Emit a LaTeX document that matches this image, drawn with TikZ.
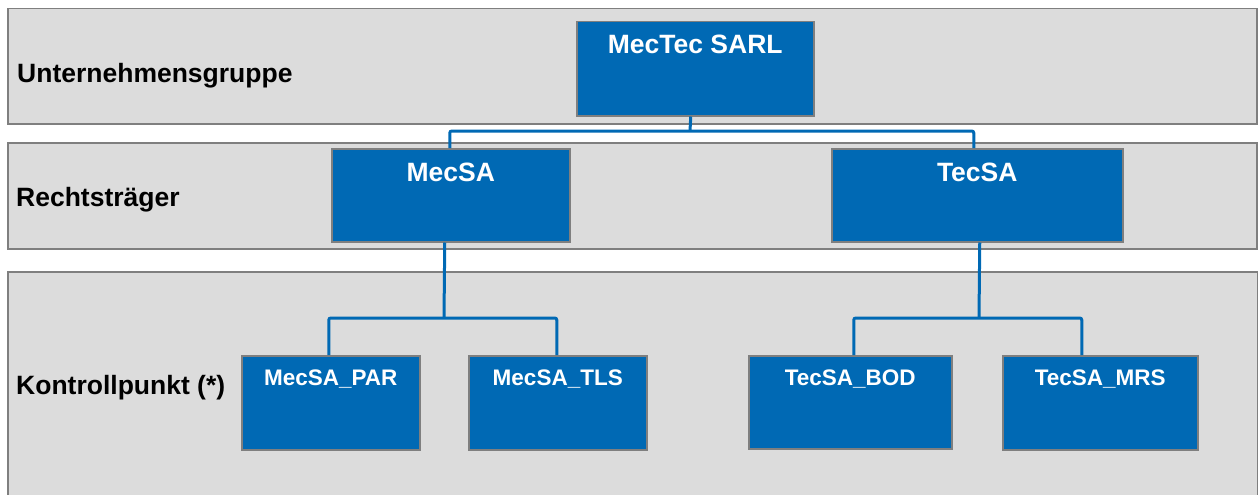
\documentclass[tikz,border=0pt]{standalone}
\usepackage{fontspec}
\setmainfont{Liberation Sans}
\usepackage{tikz}
\usetikzlibrary{positioning}
\definecolor{unitblue}{RGB}{0,105,180}
\definecolor{bandgray}{RGB}{220,220,220}
\definecolor{edgegray}{RGB}{127,127,127}
\tikzset{
band/.style = { rectangle, draw = edgegray, fill = bandgray, line width = 1.5pt, anchor = north west, inner sep = 0pt },
tier label/.style = { black, anchor = base west, inner sep = 0pt, font = \bfseries\fontsize{26.5}{30}\selectfont },
unit/.style = { rectangle, draw = edgegray, fill = unitblue, line width = 1.5pt, anchor = north west, inner sep = 0pt },
unit text/.style = { white, anchor = base, inner sep = 0pt, font = \bfseries\fontsize{26.5}{30}\selectfont },
small text/.style = { unit text, font = \bfseries\fontsize{22.5}{26}\selectfont },
link/.style = { draw = unitblue, line width = 3pt, rounded corners = 2pt },
}
\begin{document}
\begin{tikzpicture}[x=1pt, y=-1pt]
      \useasboundingbox (0,0) rectangle (1258,495);
      \clip (0,0) rectangle (1258,495);
      % tiers
      \node[band, minimum width = 1249, minimum height = 115] (bandgroup) at (7,8) {};
      \node[band, minimum width = 1249, minimum height = 106] (bandlegal) at (7,142) {};
      \node[band, minimum width = 1250, minimum height = 240] (bandctrl) at (7,271) {};
      \node[tier label] (tiergroup) at (17,82) {Unternehmensgruppe};
      \node[tier label] (tierlegal) at (16,206) {Rechtsträger};
      \node[tier label] (tierctrl) at (16,394) {Kontrollpunkt (*)};
      % hubs
      \coordinate (hubtop) at (690,131);
      \coordinate (hubmec) at (444,318);
      \coordinate (hubtec) at (979,318);
      % units
      \begin{scope}[every label/.style={unit text}]
        \node[unit, minimum width = 237, minimum height = 94, label={[yshift=-33pt]north:MecTec SARL}] (mectec) at (576,21) {};
        \node[unit, minimum width = 238, minimum height = 93, label={[yshift=-33pt]north:MecSA}] (mecsa) at (331,148) {};
        \node[unit, minimum width = 291, minimum height = 93, label={[yshift=-33pt]north:TecSA}] (tecsa) at (831,148) {};
      \end{scope}
      \begin{scope}[every label/.style={small text}]
        \node[unit, minimum width = 178, minimum height = 94, label={[yshift=-30pt]north:MecSA\_PAR}] (mecpar) at (241,355) {};
        \node[unit, minimum width = 178, minimum height = 94, label={[yshift=-30pt]north:MecSA\_TLS}] (mectls) at (468,355) {};
        \node[unit, minimum width = 203, minimum height = 93, label={[yshift=-30pt]north:TecSA\_BOD}] (tecbod) at (748,355) {};
        \node[unit, minimum width = 195, minimum height = 94, label={[yshift=-30pt]north:TecSA\_MRS}] (tecmrs) at (1002,355) {};
      \end{scope}
      % connectors
      \draw[link] ([xshift=-4.5pt]mectec.south) -- (hubtop);
      \draw[link] ([xshift=-1pt]mecsa.north) |- (hubtop) -| ([xshift=-3.5pt]tecsa.north);
      \draw[link] ([xshift=-6pt]mecsa.south) -- (hubmec);
      \draw[link] ([xshift=-2pt]mecpar.north) |- (hubmec) -| ([xshift=-1pt]mectls.north);
      \draw[link] ([xshift=2.5pt]tecsa.south) -- (hubtec);
      \draw[link] ([xshift=3.5pt]tecbod.north) |- (hubtec) -| ([xshift=-18.5pt]tecmrs.north);
    \end{tikzpicture}
\end{document}
